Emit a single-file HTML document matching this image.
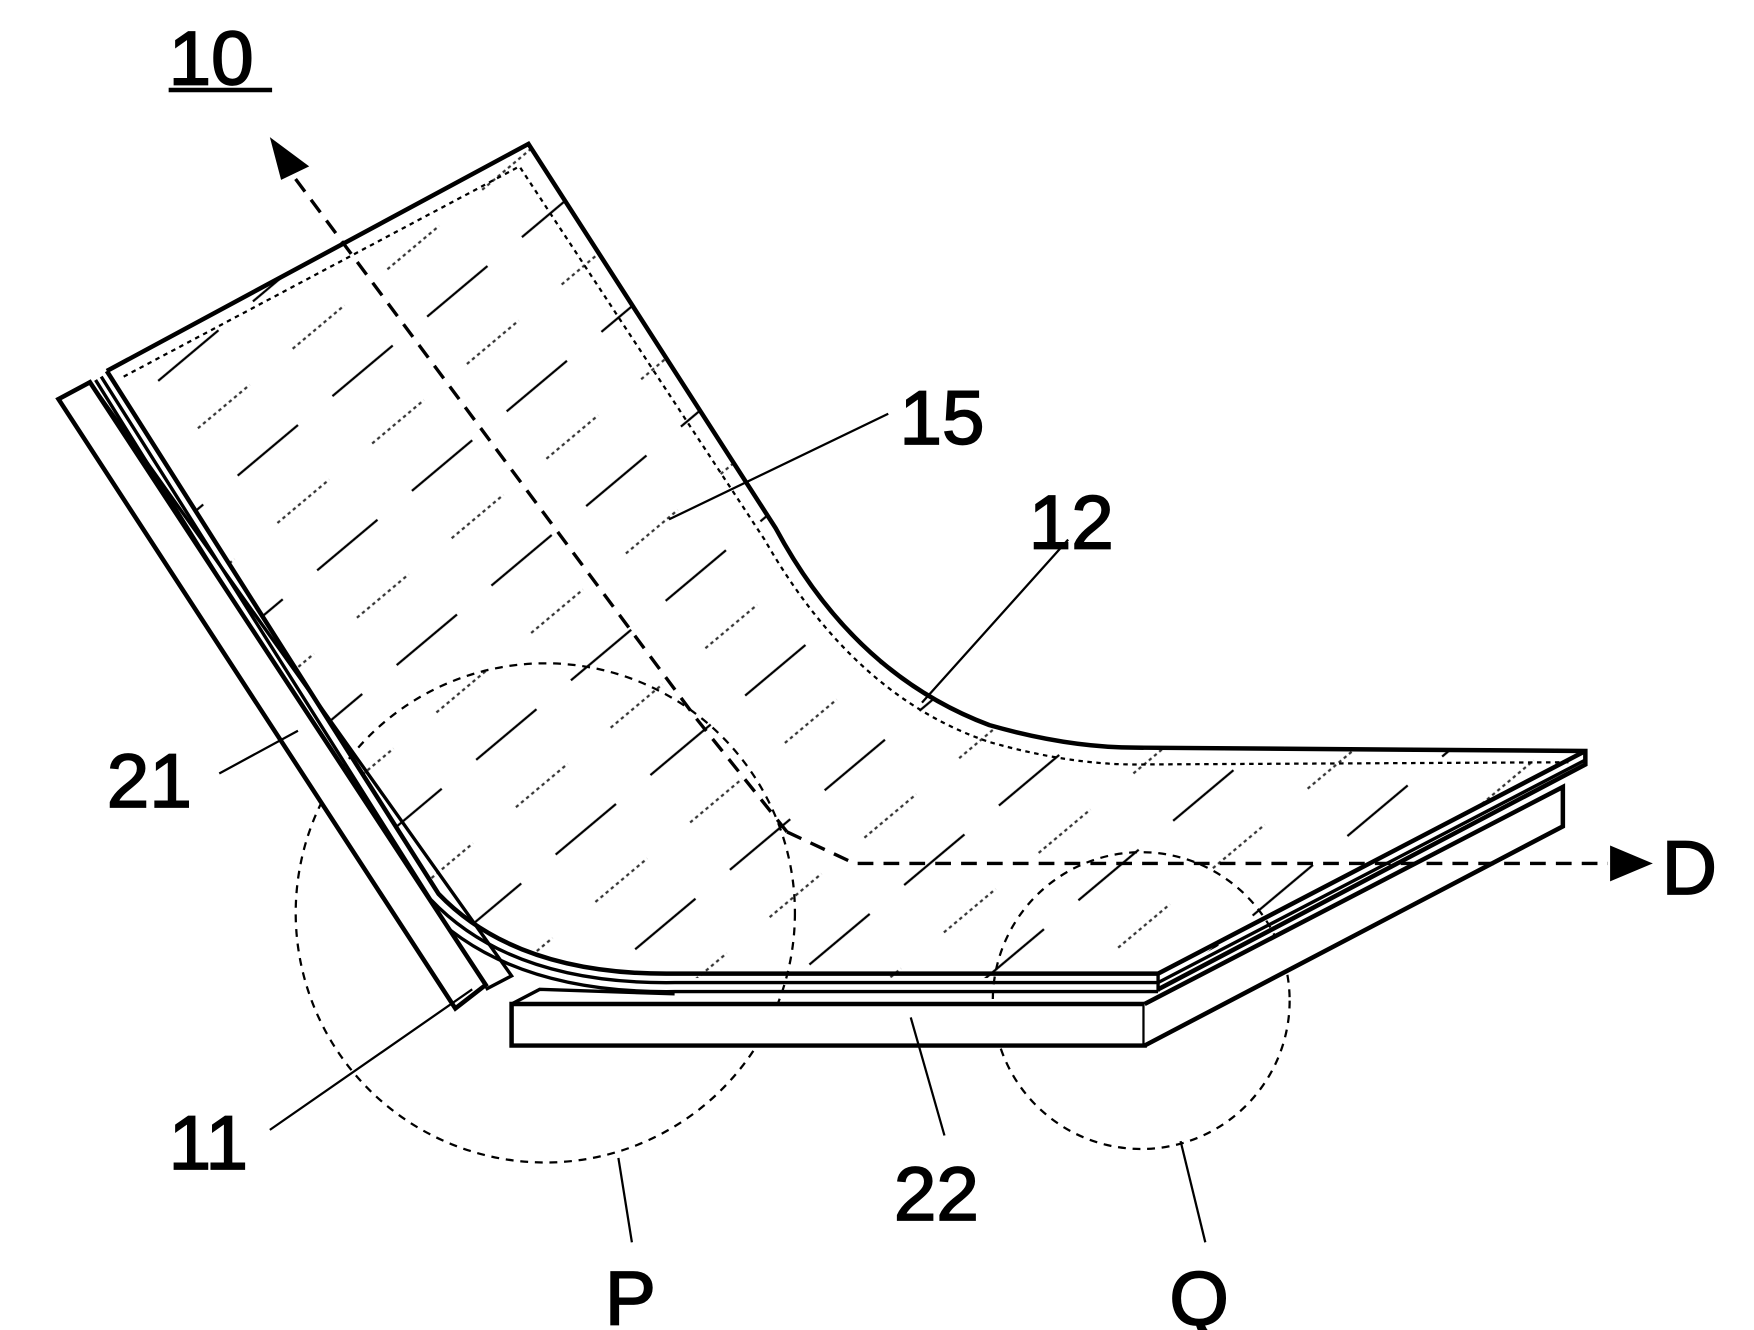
<!DOCTYPE html>
<html><head><style>
html,body{margin:0;padding:0;background:#fff;}
svg{display:block;}
text{font-family:"Liberation Sans",sans-serif;fill:#000;}
</style></head><body>
<svg width="1754" height="1330" viewBox="0 0 1560 1183" preserveAspectRatio="none" xmlns="http://www.w3.org/2000/svg">
<defs>
<clipPath id="sheet">
<path d="M95,330 L470,128 L690,470 Q760,600 880,645 Q950,665 1010,665 L1410,668 L1030,870 L600,870 Q460,868 390,795 Z"/>
</clipPath>
<pattern id="hatch" width="110" height="110" patternUnits="userSpaceOnUse" patternTransform="rotate(-40)">
<line x1="0" y1="20" x2="110" y2="20" stroke="#000" stroke-width="2" stroke-dasharray="70 40"/>
<line x1="0" y1="75" x2="110" y2="75" stroke="#333" stroke-width="2" stroke-dasharray="3 3"/>
<line x1="0" y1="75" x2="110" y2="75" stroke="#fff" stroke-width="3" stroke-dasharray="0 60 50 0"/>
</pattern>
</defs>
<rect width="1560" height="1183" fill="#fff"/>

<rect x="0" y="0" width="1560" height="1183" fill="url(#hatch)" clip-path="url(#sheet)"/>

<path d="M110,335 L462,148 L680,480 Q760,620 880,660 Q950,680 1010,680 L1395,678" fill="none" stroke="#000" stroke-width="2" stroke-dasharray="4 4"/>

<circle cx="485" cy="812" r="222" fill="none" stroke="#000" stroke-width="2" stroke-dasharray="7 6"/>
<circle cx="1015" cy="890" r="132" fill="none" stroke="#000" stroke-width="2" stroke-dasharray="7 6"/>

<path d="M95,330 L470,128 L690,470 Q760,600 880,645 Q950,665 1010,665 L1410,668 L1410,680 L1030,880" fill="none" stroke="#000" stroke-width="4"/>
<path d="M95,330 L390,795 Q460,868 600,866 L1030,866 L1410,668" fill="none" stroke="#000" stroke-width="4"/>
<path d="M90,335 L383,800 Q455,876 600,874 L1030,874 L1410,676" fill="none" stroke="#000" stroke-width="3"/>
<path d="M85,338 L376,805 Q450,884 600,882 L1030,882" fill="none" stroke="#000" stroke-width="3"/>
<path d="M1030,866 L1030,882" stroke="#000" stroke-width="3"/>

<path d="M52,355 L80,340 L432,876 L405,897 Z" fill="#fff" stroke="#000" stroke-width="4"/>
<path d="M80,340 L455,868 L432,880" fill="none" stroke="#000" stroke-width="3"/>

<path d="M455,893 L1018,893 L1018,930 L455,930 Z" fill="#fff" stroke="#000" stroke-width="4"/>
<path d="M455,893 L480,880 L600,884" fill="none" stroke="#000" stroke-width="3"/>
<path d="M1018,893 L1390,700 L1390,735 L1018,930" fill="#fff" stroke="#000" stroke-width="4"/>

<path d="M700,740 L620,640 L262,158" fill="none" stroke="#000" stroke-width="3" stroke-dasharray="14 9"/>
<polygon points="240,122 275,148 250,160" fill="#000"/>
<path d="M700,740 L760,768 L1430,768" fill="none" stroke="#000" stroke-width="3" stroke-dasharray="14 9"/>
<polygon points="1470,768 1432,752 1432,784" fill="#000"/>

<line x1="595" y1="462" x2="790" y2="368" stroke="#000" stroke-width="2"/>
<line x1="820" y1="625" x2="950" y2="480" stroke="#000" stroke-width="2"/>
<line x1="195" y1="688" x2="265" y2="650" stroke="#000" stroke-width="2"/>
<line x1="240" y1="1005" x2="420" y2="880" stroke="#000" stroke-width="2"/>
<line x1="810" y1="905" x2="840" y2="1010" stroke="#000" stroke-width="2"/>
<line x1="550" y1="1030" x2="562" y2="1105" stroke="#000" stroke-width="2"/>
<line x1="1050" y1="1015" x2="1072" y2="1105" stroke="#000" stroke-width="2"/>

<g stroke="#000" stroke-width="1.5">
<text x="150" y="75" font-size="68">10</text>
<text x="800" y="395" font-size="68">15</text>
<text x="915" y="488" font-size="68">12</text>
<text x="95" y="718" font-size="68">21</text>
<text x="150" y="1040" font-size="68">11</text>
<text x="795" y="1085" font-size="68">22</text>
<text x="538" y="1178" font-size="68">P</text>
<text x="1040" y="1178" font-size="68">Q</text>
<text x="1478" y="795" font-size="68">D</text>
</g>
<line x1="150" y1="80" x2="242" y2="80" stroke="#000" stroke-width="4"/>
</svg>
</body></html>
